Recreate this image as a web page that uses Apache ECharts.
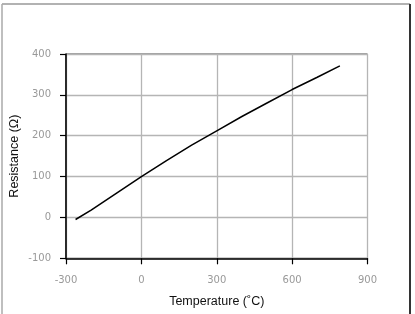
<!DOCTYPE html>
<html>
<head>
<meta charset="utf-8">
<script src="https://cdn.jsdelivr.net/npm/echarts@6/dist/echarts.min.js"></script>
<style>html,body{margin:0;padding:0;background:#fff;}#c{width:415px;height:314px;}</style>
</head>
<body>
<div id="c"></div>
<script>
var temperatures = [-262, -200, -100, 0, 100, 200, 300, 400, 500, 600, 700, 790];
var resistances = [-5, 18, 59, 100, 139, 177, 212, 247, 280, 313, 343, 371];
var xTicks = [-300, 0, 300, 600, 900];
var yTicks = [-100, 0, 100, 200, 300, 400];

var chart = echarts.init(document.getElementById('c'), null, {renderer: 'canvas'});
var seriesData = temperatures.map(function (t, i) { return [t, resistances[i]]; });
var labelStyle = {color: '#999', fontFamily: 'DejaVu Sans', fontSize: 10};
chart.setOption({
  animation: false,
  backgroundColor: '#fff',
  graphic: [
    {type: 'line', shape: {x1: 2, y1: 4, x2: 410, y2: 4}, style: {stroke: '#999', lineWidth: 1.5}},
    {type: 'line', shape: {x1: 2, y1: 4, x2: 2, y2: 314}, style: {stroke: '#aaa', lineWidth: 1.5}},
    {type: 'line', shape: {x1: 410, y1: 4, x2: 410, y2: 314}, style: {stroke: '#333', lineWidth: 2}},
    {type: 'rect', shape: {x: 66, y: 54, width: 301.5, height: 204.3}, style: {fill: 'none', stroke: '#444', lineWidth: 1}, z: 0}
  ],
  grid: {left: 66, right: 47.5, top: 54, bottom: 55.7, containLabel: false, outerBoundsMode: 'none'},
  xAxis: {
    type: 'value', min: xTicks[0], max: xTicks[xTicks.length - 1], interval: 300,
    name: 'Temperature (˚C)', nameLocation: 'middle', nameGap: 37, nameMoveOverlap: false,
    nameTextStyle: {color: '#111', fontFamily: 'Liberation Sans', fontSize: 12.5},
    axisLine: {show: true, onZero: false, lineStyle: {color: '#000', width: 1.5}},
    axisTick: {show: true, inside: false, length: 6, lineStyle: {color: '#000', width: 1.2}},
    axisLabel: Object.assign({margin: 17}, labelStyle),
    splitLine: {show: true, lineStyle: {color: '#b5b5b5', width: 1.3}}
  },
  yAxis: {
    type: 'value', min: yTicks[0], max: yTicks[yTicks.length - 1], interval: 100,
    name: 'Resistance (Ω)', nameLocation: 'middle', nameGap: 45, nameRotate: 90, nameMoveOverlap: false,
    nameTextStyle: {color: '#111', fontFamily: 'Liberation Sans', fontSize: 12.5},
    axisLine: {show: true, onZero: false, lineStyle: {color: '#000', width: 1.5}},
    axisTick: {show: true, inside: false, length: 6, lineStyle: {color: '#000', width: 1.2}},
    axisLabel: Object.assign({margin: 15}, labelStyle),
    splitLine: {show: true, lineStyle: {color: '#b5b5b5', width: 1.3}}
  },
  series: [{
    type: 'line', data: seriesData, showSymbol: false, smooth: false,
    lineStyle: {color: '#000', width: 1.5}, z: 5
  }]
});
</script>
</body>
</html>
